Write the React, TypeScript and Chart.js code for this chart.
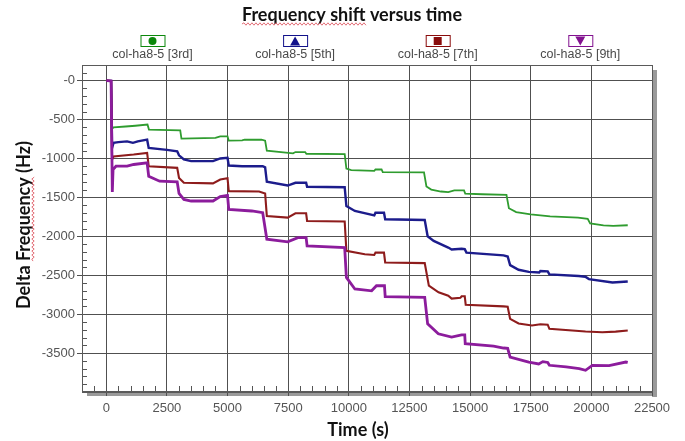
import React, { useEffect, useRef } from 'react';
import { Chart, registerables } from 'chart.js';

Chart.register(...registerables);

const chartTitle = 'Frequency shift versus time';
const xTitle = 'Time (s)';
const yTitle = 'Delta Frequency (Hz)';

const seriesNames = ['col-ha8-5 [3rd]', 'col-ha8-5 [5th]', 'col-ha8-5 [7th]', 'col-ha8-5 [9th]'];
const seriesColors = ['#2f9c2f', '#1c1c8c', '#8e1c1c', '#8c1c9c'];
const markerColors = ['#0c880c', '#12128a', '#8a0c0c', '#82128f'];
const markerShapes = ['circle', 'triangle', 'square', 'triangleDown'];

// [time (s), delta frequency (Hz)]
const green3rd: [number, number][] = [
  [0, 0], [200, -5], [240, -620], [300, -600], [800, -590], [1200, -580], [1700, -565],
  [1760, -630], [3050, -640], [3100, -745], [4500, -735], [4700, -716], [5000, -716],
  [5050, -772], [5600, -768], [5700, -760], [6400, -760], [6550, -772], [6620, -900],
  [7700, -934], [7800, -918], [8200, -918], [8250, -940], [9830, -945], [9900, -1130],
  [10100, -1150], [11050, -1160], [11100, -1142], [11350, -1142], [11400, -1176],
  [13100, -1180], [13200, -1360], [13400, -1400], [13800, -1425], [14100, -1432],
  [14350, -1410], [14750, -1410], [14800, -1452], [15500, -1460], [16500, -1467],
  [16600, -1640], [16900, -1690], [17500, -1718], [18100, -1739], [18300, -1745],
  [19450, -1760], [19850, -1775], [19950, -1835], [20500, -1860], [20900, -1867], [21500, -1858],
];

const blue5th: [number, number][] = [
  [0, 0], [200, -5], [240, -865], [300, -800], [500, -790], [860, -781], [1100, -800],
  [1300, -780], [1685, -759], [1750, -865], [2500, -890], [2925, -908], [3000, -960],
  [3200, -1014], [3500, -1035], [4400, -1035], [4700, -1000], [5000, -993], [5050, -1091],
  [5600, -1100], [6450, -1100], [6550, -1115], [6620, -1300], [7480, -1348], [7800, -1313],
  [8240, -1313], [8280, -1364], [9830, -1370], [9900, -1611], [10250, -1675], [11050, -1731],
  [11100, -1697], [11450, -1697], [11500, -1782], [13130, -1790], [13250, -2000],
  [13500, -2060], [14100, -2145], [14240, -2170], [14650, -2160], [14780, -2165],
  [14850, -2210], [16380, -2245], [16550, -2260], [16650, -2370], [17000, -2430],
  [17420, -2457], [17850, -2465], [17900, -2445], [18200, -2450], [18270, -2490],
  [19480, -2510], [19750, -2520], [19900, -2550], [20870, -2593], [21500, -2580],
];

const red7th: [number, number][] = [
  [0, 0], [200, -5], [240, -1014], [300, -975], [1130, -950], [1685, -929], [1750, -1100],
  [2925, -1121], [3000, -1250], [3200, -1313], [4400, -1320], [4700, -1270], [5000, -1254],
  [5050, -1420], [6300, -1425], [6550, -1450], [6620, -1739], [7480, -1760], [7800, -1705],
  [8240, -1705], [8280, -1803], [9830, -1810], [9900, -2187], [10660, -2230], [11050, -2240],
  [11100, -2210], [11450, -2210], [11500, -2336], [13130, -2345], [13300, -2635],
  [13700, -2720], [14100, -2763], [14240, -2800], [14600, -2790], [14650, -2770],
  [14780, -2770], [14820, -2880], [16380, -2900], [16550, -2905], [16650, -3061],
  [17000, -3120], [17550, -3146], [17900, -3130], [18200, -3135], [18270, -3189],
  [19760, -3223], [20450, -3232], [21000, -3225], [21500, -3210],
];

const purple9th: [number, number][] = [
  [0, 0], [200, -5], [250, -1432], [280, -1142], [400, -1100], [860, -1100], [1130, -1078],
  [1685, -1057], [1750, -1228], [2200, -1292], [2925, -1300], [3000, -1450], [3200, -1526],
  [3500, -1547], [4400, -1547], [4700, -1490], [5000, -1475], [5050, -1654], [6000, -1675],
  [6450, -1697], [6620, -2038], [7480, -2072], [7900, -2017], [8240, -2017], [8280, -2123],
  [9830, -2145], [9900, -2528], [10250, -2677], [10940, -2700], [11140, -2635],
  [11470, -2635], [11500, -2775], [13130, -2785], [13250, -3125], [13690, -3253],
  [14240, -3295], [14650, -3265], [14780, -3265], [14800, -3380], [15970, -3410],
  [16380, -3435], [16550, -3440], [16650, -3551], [17420, -3615], [17830, -3640],
  [18000, -3610], [18200, -3620], [18270, -3657], [18960, -3678], [19500, -3700],
  [19760, -3721], [20040, -3657], [20730, -3660], [21420, -3615], [21500, -3620],
];

const seriesData = [green3rd, blue5th, red7th, purple9th];
const lineWidths = [1.8, 2.4, 2.1, 2.8];

const xTicks = [0, 2500, 5000, 7500, 10000, 12500, 15000, 17500, 20000, 22500];
const yTicks = [-3500, -3000, -2500, -2000, -1500, -1000, -500, 0];
const xRange = [-1000, 22500];
const yRange = [-4000, 200];

const boldFont = 'Lato, "Open Sans", sans-serif';
const tickFont = '"Liberation Sans", Arial, sans-serif';

function wavy(ctx: CanvasRenderingContext2D, x0: number, x1: number, y: number) {
  ctx.beginPath();
  let up = true;
  ctx.moveTo(x0, y);
  for (let x = x0; x < x1; x += 2) {
    ctx.lineTo(x + 2, up ? y - 1.2 : y + 1.2);
    up = !up;
  }
  ctx.stroke();
}

function drawMarker(ctx: CanvasRenderingContext2D, shape: string, cx: number, cy: number, color: string) {
  ctx.fillStyle = color;
  ctx.beginPath();
  if (shape === 'circle') {
    ctx.arc(cx, cy, 4, 0, Math.PI * 2);
  } else if (shape === 'triangle') {
    ctx.moveTo(cx, cy - 4.5);
    ctx.lineTo(cx + 5, cy + 4.5);
    ctx.lineTo(cx - 5, cy + 4.5);
    ctx.closePath();
  } else if (shape === 'square') {
    ctx.rect(cx - 4, cy - 4, 8, 8);
  } else {
    ctx.moveTo(cx - 5, cy - 4.5);
    ctx.lineTo(cx + 5, cy - 4.5);
    ctx.lineTo(cx, cy + 4.5);
    ctx.closePath();
  }
  ctx.fill();
}

const decorPlugin = {
  id: 'decor',
  beforeDraw(chart: any) {
    const { ctx, chartArea: a } = chart;
    ctx.save();
    ctx.fillStyle = '#9a9a9a';
    ctx.fillRect(a.right, a.top + 5, 5, a.bottom - a.top);
    ctx.fillRect(a.left + 5, a.bottom, a.right - a.left, 4);
    ctx.restore();
  },
  afterDraw(chart: any) {
    const { ctx, chartArea: a, scales } = chart;
    const xs = scales.x;
    const ys = scales.y;
    ctx.save();

    // minor ticks
    ctx.strokeStyle = '#555';
    ctx.lineWidth = 1;
    ctx.beginPath();
    for (let v = -3900; v <= 100; v += 100) {
      if (v % 500 === 0) continue;
      const y = Math.round(ys.getPixelForValue(v)) + 0.5;
      ctx.moveTo(a.left, y);
      ctx.lineTo(a.left + 5, y);
    }
    for (let t = -500; t <= 22000; t += 500) {
      if (t % 2500 === 0) continue;
      const x = Math.round(xs.getPixelForValue(t)) + 0.5;
      ctx.moveTo(x, a.bottom);
      ctx.lineTo(x, a.bottom - 6);
    }
    ctx.stroke();

    // frame
    ctx.strokeStyle = '#5a5a5a';
    ctx.lineWidth = 1;
    ctx.strokeRect(Math.round(a.left) + 0.5, Math.round(a.top) + 0.5, Math.round(a.right - a.left), Math.round(a.bottom - a.top));
    ctx.lineWidth = 2;
    ctx.beginPath();
    ctx.moveTo(a.left, a.bottom);
    ctx.lineTo(a.right, a.bottom);
    ctx.stroke();

    // title
    ctx.fillStyle = '#111';
    ctx.font = 'bold 18px ' + boldFont;
    ctx.textAlign = 'center';
    ctx.textBaseline = 'middle';
    const titleX = 352;
    const titleY = 15;
    ctx.fillText(chartTitle, titleX, titleY);
    const tw = ctx.measureText(chartTitle).width;
    const underlined = ctx.measureText('Frequency shift').width;
    ctx.strokeStyle = '#e0606a';
    ctx.lineWidth = 0.9;
    wavy(ctx, titleX - tw / 2, titleX - tw / 2 + underlined, titleY + 9);

    // x axis title
    ctx.fillStyle = '#111';
    ctx.font = 'bold 18px ' + boldFont;
    ctx.fillText(xTitle, 358, 430);

    // y axis title
    ctx.save();
    ctx.translate(24, 225);
    ctx.rotate(-Math.PI / 2);
    ctx.fillText(yTitle, 0, 0);
    const yw = ctx.measureText(yTitle).width;
    const pre = ctx.measureText('Delta ').width;
    const word = ctx.measureText('Frequency').width;
    ctx.strokeStyle = '#e0606a';
    ctx.lineWidth = 0.9;
    wavy(ctx, -yw / 2 + pre, -yw / 2 + pre + word, 9);
    ctx.restore();

    // legend
    ctx.font = '12.5px ' + tickFont;
    ctx.textBaseline = 'middle';
    ctx.textAlign = 'center';
    for (let i = 0; i < seriesNames.length; i++) {
      const cx = 152.5 + i * 142.6;
      ctx.fillStyle = '#fff';
      ctx.fillRect(cx - 12, 35, 24, 12);
      ctx.strokeStyle = markerColors[i];
      ctx.lineWidth = 1;
      ctx.strokeRect(cx - 12 + 0.5, 35.5, 24, 11);
      drawMarker(ctx, markerShapes[i], cx, 41, markerColors[i]);
      ctx.fillStyle = '#4a4a4a';
      ctx.fillText(seriesNames[i], cx, 55);
    }
    ctx.restore();
  },
};

export default function App() {
  const ref = useRef<HTMLCanvasElement>(null);

  useEffect(() => {
    if (!ref.current) return;
    const chart = new Chart(ref.current, {
      type: 'line',
      data: {
        datasets: seriesData.map((s, i) => ({
          label: seriesNames[i],
          data: s.map(([t, v]) => ({ x: t, y: v })),
          borderColor: seriesColors[i],
          backgroundColor: seriesColors[i],
          borderWidth: lineWidths[i],
          pointRadius: 0,
          tension: 0,
          fill: false,
          order: 3 - i,
        })),
      },
      options: {
        responsive: false,
        animation: false,
        layout: { padding: { top: 65, right: 33, bottom: 0, left: 0 } },
        plugins: {
          legend: { display: false },
          title: { display: false },
          tooltip: { enabled: false },
        },
        scales: {
          x: {
            type: 'linear',
            min: xRange[0],
            max: xRange[1],
            afterBuildTicks: (scale: any) => {
              scale.ticks = xTicks.map((v) => ({ value: v }));
            },
            afterFit: (scale: any) => {
              scale.height = 49;
            },
            grid: { color: '#505050', lineWidth: 1, drawTicks: true, tickLength: 4 },
            border: { display: false },
            ticks: {
              color: '#555',
              font: { family: tickFont, size: 13 },
              padding: 5,
              maxRotation: 0,
              autoSkip: false,
              callback: (v: any) => String(v),
            },
          },
          y: {
            type: 'linear',
            min: yRange[0],
            max: yRange[1],
            afterBuildTicks: (scale: any) => {
              scale.ticks = yTicks.map((v) => ({ value: v }));
            },
            afterFit: (scale: any) => {
              scale.width = 82;
            },
            grid: { color: '#505050', lineWidth: 1, drawTicks: true, tickLength: 5 },
            border: { display: false },
            ticks: {
              color: '#555',
              font: { family: tickFont, size: 13 },
              padding: 2,
              autoSkip: false,
              callback: (v: any) => (v === 0 ? '-0' : String(v)),
            },
          },
        },
      },
      plugins: [decorPlugin],
    });
    return () => chart.destroy();
  }, []);

  return (
    <div style={{ position: 'absolute', left: 0, top: 0, width: 685, height: 441, background: '#fff' }}>
      <canvas ref={ref} width={685} height={441} />
    </div>
  );
}
